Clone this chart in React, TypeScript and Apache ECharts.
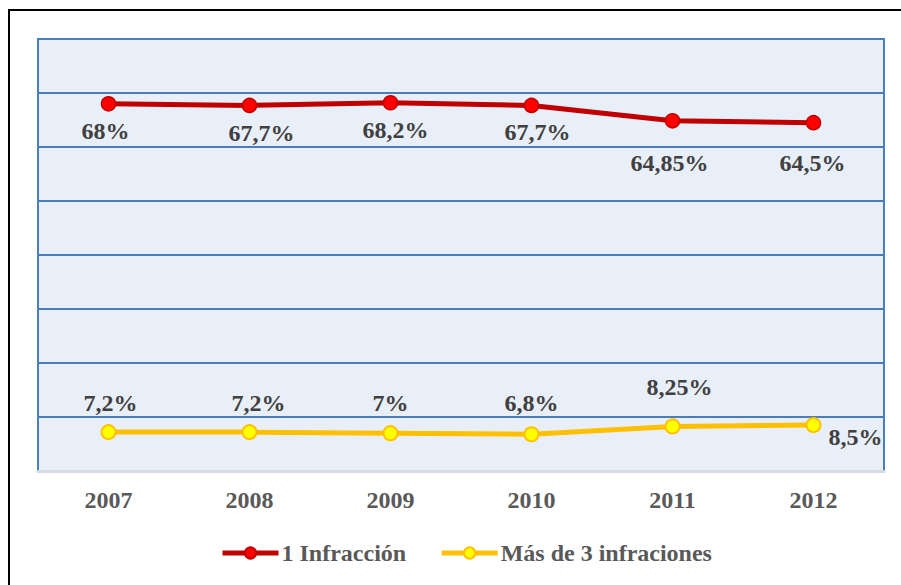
import React, { useEffect, useRef } from "react";
import * as echarts from "echarts";

const years = ["2007", "2008", "2009", "2010", "2011", "2012"];
const unaInfraccion = [68, 67.7, 68.2, 67.7, 64.85, 64.5];
const masDeTres = [7.2, 7.2, 7, 6.8, 8.25, 8.5];
const seriesNames = ["1 Infracción", "Más de 3 infraciones"];

// label placement (style only)
const redLabelOffsets = [[-3, 27], [12, 28], [5, 27], [6, 27], [-3, 42], [-1, 40]];
const yellowLabelOffsets = [[2, -29], [9, -29], [0, -30], [0, -31], [7, -39], [42, 12]];

const FONT = "Liberation Serif";
const fmt = (v: number) => String(v).replace(".", ",") + "%";

export default function App() {
  const ref = useRef<HTMLDivElement>(null);
  useEffect(() => {
    const chart = echarts.init(ref.current!, null, { renderer: "svg" });
    const labelStyle = {
      show: true,
      position: "inside",
      fontFamily: FONT,
      fontWeight: "bold",
      fontSize: 24,
      color: "#404040",
    };
    chart.setOption({
      animation: false,
      backgroundColor: "#ffffff",
      textStyle: { fontFamily: FONT },
      graphic: [
        {
          type: "rect",
          shape: { x: 9, y: 10, width: 900, height: 590 },
          style: { fill: "none", stroke: "#000000", lineWidth: 2 },
          z: 0,
        },
      ],
      grid: {
        left: 38,
        right: 17,
        top: 39,
        bottom: 114,
        show: true,
        backgroundColor: "#e9eff8",
        borderColor: "#4a7ebb",
        borderWidth: 2,
      },
      legend: {
        top: 536,
        left: 215,
        itemWidth: 56,
        itemHeight: 14,
        itemGap: 33,
        lineStyle: { width: 5 },
        textStyle: {
          fontFamily: FONT,
          fontWeight: "bold",
          fontSize: 24,
          color: "#595959",
          padding: [0, 0, 0, -2],
        },
        data: seriesNames,
      },
      xAxis: {
        type: "category",
        data: years,
        boundaryGap: true,
        axisTick: { show: false },
        axisLine: { show: true, lineStyle: { color: "#d4dbe4", width: 3 } },
        axisLabel: {
          margin: 17,
          fontFamily: FONT,
          fontWeight: "bold",
          fontSize: 24,
          color: "#595959",
        },
        splitLine: { show: false },
      },
      yAxis: {
        type: "value",
        min: 0,
        max: 80,
        interval: 10,
        axisLabel: { show: false },
        axisTick: { show: false },
        axisLine: { show: false },
        splitLine: { show: true, lineStyle: { color: "#4a7ebb", width: 2 } },
      },
      series: [
        {
          name: seriesNames[0],
          type: "line",
          data: unaInfraccion.map((v, i) => ({
            value: v,
            label: { offset: redLabelOffsets[i] },
          })),
          lineStyle: { color: "#c00000", width: 5 },
          itemStyle: { color: "#ff0000", borderColor: "#c00000", borderWidth: 1.5 },
          color: "#c00000",
          symbol: "circle",
          symbolSize: 14,
          label: { ...labelStyle, formatter: (p: any) => fmt(p.value) },
          z: 3,
        },
        {
          name: seriesNames[1],
          type: "line",
          data: masDeTres.map((v, i) => ({
            value: v,
            label: { offset: yellowLabelOffsets[i] },
          })),
          lineStyle: { color: "#ffc000", width: 5 },
          itemStyle: { color: "#ffff00", borderColor: "#ffc000", borderWidth: 2 },
          color: "#ffc000",
          symbol: "circle",
          symbolSize: 14,
          label: { ...labelStyle, formatter: (p: any) => fmt(p.value) },
          z: 3,
        },
      ],
    });
    return () => chart.dispose();
  }, []);
  return (
    <div
      ref={ref}
      style={{ position: "fixed", left: 0, top: 0, width: 901, height: 585 }}
    />
  );
}
